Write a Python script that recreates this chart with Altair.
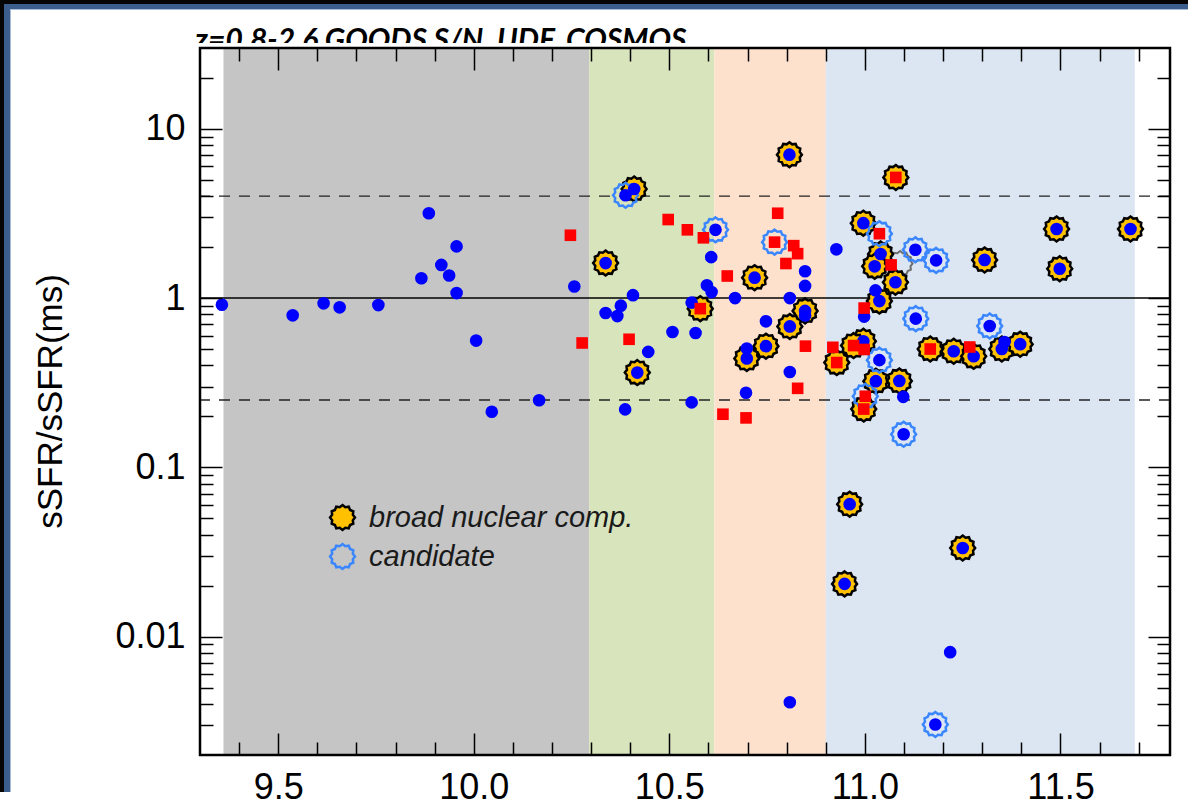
import math
import altair as alt
import pandas as pd

W, H = 970, 707
FONT = "Liberation Sans"

TITLE = "z=0.8-2.6 GOODS S/N, UDF, COSMOS"
Y_TITLE = "sSFR/sSFR(ms)"

# stellar-mass bins shaded behind the points
BIN_START = [9.36, 10.295, 10.615, 10.90]
BIN_END = [10.295, 10.615, 10.90, 11.69]
BIN_COLOR = ["#c5c5c5", "#d8e4bc", "#fde1cd", "#dce6f2"]

# reference levels: main sequence and a factor of 4 either side
MS_LEVEL = [1.0]
BAND_LEVELS = [4.0, 0.25]

# sample drawn as blue dots (log M*, sSFR/sSFR_ms, AGN class)
BLUE_X = [9.356, 9.537, 9.616, 9.657, 9.756, 9.885, 9.956, 9.917, 9.937, 9.866,
          9.956, 10.006, 10.046, 10.167, 10.257, 10.337, 10.367, 10.376, 10.407, 10.446,
          10.508, 10.567, 10.557, 10.387, 10.607, 10.596, 10.608, 10.668, 10.808, 10.847,
          10.847, 10.747, 10.808, 10.696, 10.698, 10.927, 11.027, 10.998, 11.098, 11.218,
          10.808, 11.357, 10.557, 10.847,
          10.337, 10.41, 10.718, 10.847, 10.808, 10.747, 10.698, 10.418, 10.807, 10.996,
          11.04, 11.025, 11.078, 11.037, 11.306, 11.49, 11.679, 11.498, 10.996, 11.028,
          11.088, 11.227, 11.278, 11.35, 11.397, 10.961, 11.25, 10.948,
          10.388, 10.618, 11.129, 11.182, 11.13, 11.319, 11.037, 11.099, 11.18]
BLUE_Y = [0.914, 0.791, 0.931, 0.882, 0.909, 3.17, 2.02, 1.57, 1.36, 1.31,
          1.07, 0.561, 0.213, 0.249, 1.17, 0.816, 0.783, 0.902, 1.04, 0.481,
          0.630, 0.622, 0.242, 0.220, 1.745, 1.19, 1.085, 1.0, 1.0, 1.44,
          1.18, 0.729, 0.366, 0.276, 0.503, 1.94, 1.11, 0.777, 0.261, 0.0081,
          0.0041, 0.550, 0.94, 0.79,
          1.61, 4.41, 1.32, 0.84, 0.68, 0.52, 0.44, 0.363, 7.03, 2.77,
          1.82, 1.54, 1.24, 0.96, 1.68, 2.56, 2.56, 1.49, 0.556, 0.323,
          0.324, 0.485, 0.453, 0.50, 0.534, 0.0606, 0.0334, 0.0205,
          4.05, 2.53, 1.93, 1.67, 0.756, 0.684, 0.43, 0.157, 0.00303]
BLUE_CLS = [""] * 44 + ["broad nuclear comp."] * 28 + ["candidate"] * 9

# sample drawn as red squares
RED_X = [10.247, 10.277, 10.397, 10.497, 10.546, 10.587, 10.777, 10.818, 10.828, 10.798,
         10.648, 10.848, 10.918, 10.828, 10.637, 10.696, 10.998, 10.998, 11.268, 11.067,
         11.079, 10.928, 10.971, 10.997, 11.167, 10.579,
         11.037, 10.769, 11.001]
RED_Y = [2.35, 0.543, 0.571, 2.91, 2.53, 2.27, 3.17, 2.04, 1.83, 1.60,
         1.35, 0.52, 0.512, 0.293, 0.206, 0.196, 0.873, 0.497, 0.514, 1.57,
         5.16, 0.416, 0.524, 0.221, 0.50, 0.866,
         2.40, 2.14, 0.263]
RED_CLS = [""] * 20 + ["broad nuclear comp."] * 6 + ["candidate"] * 3

# one uncertain object outlined in grey
OTHER_X = [11.09]
OTHER_Y = [1.60]

CLASSES = ["broad nuclear comp.", "candidate"]

X_MAJOR = [9.5, 10.0, 10.5, 11.0, 11.5]
X_MINOR = [9.4, 9.6, 9.7, 9.8, 9.9, 10.1, 10.2, 10.3, 10.4, 10.6, 10.7, 10.8, 10.9,
           11.1, 11.2, 11.3, 11.4, 11.6, 11.7]
Y_MAJOR = [0.01, 0.1, 1, 10]
Y_MINOR = [0.003, 0.004, 0.005, 0.006, 0.007, 0.008, 0.009,
           0.02, 0.03, 0.04, 0.05, 0.06, 0.07, 0.08, 0.09,
           0.2, 0.3, 0.4, 0.5, 0.6, 0.7, 0.8, 0.9,
           2, 3, 4, 5, 6, 7, 8, 9, 20]


def cog_path(n=12, r_in=0.86):
    pts = []
    for i in range(2 * n):
        r = 1.0 if i % 2 == 0 else r_in
        a = math.pi * i / n
        pts.append(f"{r * math.sin(a):.4f},{-r * math.cos(a):.4f}")
    return "M" + "L".join(pts) + "Z"


COG = cog_path()

xs = alt.Scale(domain=[9.3, 11.78], nice=False, zero=False)
ys = alt.Scale(type="log", domain=[0.002, 30], nice=False)

blue = pd.DataFrame({"x": BLUE_X, "y": BLUE_Y, "cls": BLUE_CLS})
red = pd.DataFrame({"x": RED_X, "y": RED_Y, "cls": RED_CLS})
pts = pd.concat([blue, red], ignore_index=True)
cogs = pd.concat([pts[pts.cls == CLASSES[0]], pts[pts.cls == CLASSES[1]]], ignore_index=True)
other = pd.DataFrame({"x": OTHER_X, "y": OTHER_Y})
bins = pd.DataFrame({"x0": BIN_START, "x1": BIN_END, "c": BIN_COLOR})

one = alt.Data(values=[{"t": TITLE, "yt": Y_TITLE}])


def band(x0, x1, y0, y1, color):
    return alt.Chart(one).mark_rect(color=color).encode(
        x=alt.value(x0), x2=alt.value(x1), y=alt.value(y0), y2=alt.value(y1))


title = alt.Chart(one).mark_text(
    font="Lato", fontSize=30, fontWeight="bold", fontStyle="italic",
    align="left", baseline="alphabetic", color="black"
).encode(x=alt.value(-5), y=alt.value(1.5), text="t:N")

cover = band(-189, W + 18, -5, 30, "white")

regions = alt.Chart(bins).mark_rect().encode(
    x=alt.X("x0:Q", scale=xs, axis=None),
    x2="x1:Q",
    color=alt.Color("c:N", scale=None, legend=None),
)

ms_line = alt.Chart(pd.DataFrame({"y": MS_LEVEL})).mark_rule(
    color="black", strokeWidth=1.4
).encode(y=alt.Y("y:Q", scale=ys, axis=None))

band_lines = alt.Chart(pd.DataFrame({"y": BAND_LEVELS})).mark_rule(
    color="#222222", strokeWidth=1.4, strokeDash=[11, 9]
).encode(y=alt.Y("y:Q", scale=ys, axis=None))


def ax(orient, values, size, labels=False, fmt=None, pad=0):
    kw = dict(orient=orient, values=values, tickSize=size, offset=-size,
              domain=False, grid=False, ticks=True, tickColor="black", tickWidth=1.5,
              labels=labels, title=None, zindex=1)
    if labels:
        kw.update(labelFont=FONT, labelFontSize=36, labelColor="black",
                  labelPadding=pad, labelFlush=False, labelOverlap=False, format=fmt)
    return alt.Axis(**kw)


def axis_layer(xaxis, yaxis):
    return alt.Chart(blue).mark_point(opacity=0).encode(
        x=alt.X("x:Q", scale=xs, axis=xaxis),
        y=alt.Y("y:Q", scale=ys, axis=yaxis),
    )


axes = [
    axis_layer(ax("bottom", X_MAJOR, 22, True, ".1f", 15), ax("left", Y_MAJOR, 22, True, "~g", 15)),
    axis_layer(ax("bottom", X_MINOR, 13), ax("left", Y_MINOR, 13)),
    axis_layer(ax("top", X_MAJOR, 22), ax("right", Y_MAJOR, 22)),
    axis_layer(ax("top", X_MINOR, 13), ax("right", Y_MINOR, 13)),
]

legend = alt.Legend(
    orient="none", legendX=128, legendY=455, title=None,
    symbolType=COG, symbolSize=620, symbolStrokeWidth=2.5,
    labelFont=FONT, labelFontSize=29, labelFontStyle="italic", labelColor="#1a1a1a",
    labelOffset=12, labelLimit=0, rowPadding=4, padding=0,
)

cog_layer = alt.Chart(cogs).mark_point(
    shape=COG, size=620, strokeWidth=2.5, opacity=1, fillOpacity=1
).encode(
    x=alt.X("x:Q", scale=xs, axis=None),
    y=alt.Y("y:Q", scale=ys, axis=None),
    fill=alt.Fill("cls:N", scale=alt.Scale(domain=CLASSES, range=["#ffc000", "transparent"]), legend=legend),
    stroke=alt.Stroke("cls:N", scale=alt.Scale(domain=CLASSES, range=["#000000", "#3a86ff"]), legend=legend),
)

other_layer = alt.Chart(other).mark_point(
    shape=COG, size=620, strokeWidth=2, color="#6e6e6e", opacity=1, filled=False
).encode(x=alt.X("x:Q", scale=xs, axis=None), y=alt.Y("y:Q", scale=ys, axis=None))

dots = alt.Chart(blue).mark_circle(size=160, color="#0000ff", opacity=1).encode(
    x=alt.X("x:Q", scale=xs, axis=None), y=alt.Y("y:Q", scale=ys, axis=None))

squares = alt.Chart(red).mark_square(size=135, color="#ff0000", opacity=1).encode(
    x=alt.X("x:Q", scale=xs, axis=None), y=alt.Y("y:Q", scale=ys, axis=None))

y_title = alt.Chart(one).mark_text(
    font=FONT, fontSize=35, angle=270, align="center", baseline="alphabetic", color="black"
).encode(x=alt.value(-138), y=alt.value(H / 2), text="yt:N")

frame = alt.Chart(one).mark_rect(
    fillOpacity=0, stroke="black", strokeWidth=2.5
).encode(x=alt.value(0), x2=alt.value(W), y=alt.value(0), y2=alt.value(H))

# slide border along the top and left edges
border = [
    band(-200, W + 18, -48, -44, "#050505"),
    band(-200, -196, -48, 744, "#050505"),
    band(-196, W + 18, -44, -39, "#3b5e8c"),
    band(-196, -190, -44, 744, "#3b5e8c"),
    band(-190, W + 18, -39, -38, "#a9bbd4"),
    band(-190, -189, -39, 744, "#a9bbd4"),
]

chart = alt.layer(
    title, cover, regions, ms_line, band_lines, *axes,
    other_layer, cog_layer, dots, squares, y_title, frame, *border
).resolve_axis(x="independent", y="independent").properties(
    width=W, height=H,
    padding={"left": 200, "top": 48, "right": 18, "bottom": 51},
    autosize=alt.AutoSizeParams(type="none"),
    background="white",
).configure_view(stroke=None)

chart.save("out.html", embed_options={"renderer": "svg", "actions": False})
